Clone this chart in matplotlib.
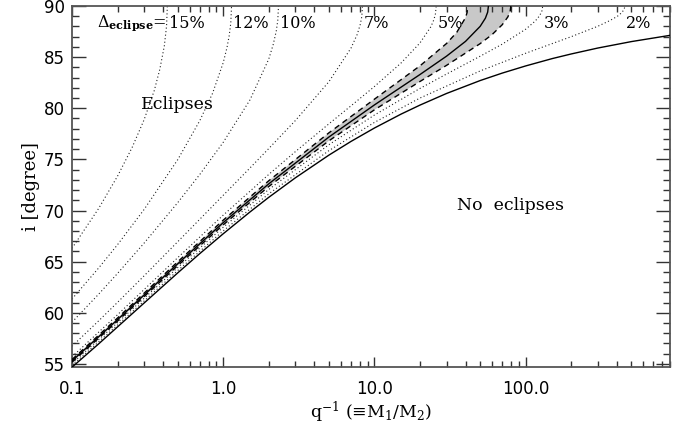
import matplotlib
matplotlib.use('Agg')
import matplotlib.pyplot as plt
from matplotlib.ticker import MultipleLocator, LogLocator, NullFormatter

# x = q^-1 = M1/M2, y = inclination [deg]
# lower limit for eclipses
q_lim=[0.1,0.15,0.2,0.3,0.5,0.7,1,1.5,2,3,5,7,10,15,20,30,50,70,100,150,200,300,500,900]
i_lim=[54.68,56.96,58.62,60.96,63.90,65.79,67.73,69.85,71.29,73.20,75.42,76.76,78.07,79.43,80.31,81.45,82.71,83.44,84.14,84.86,85.31,85.89,86.52,87.13]

# constant eclipse width curves (dotted)
q15=[0.1,0.15,0.2,0.25,0.3,0.35,0.3805,0.4077,0.422,0.427]
i15=[66.31,70.20,73.36,76.18,78.89,81.74,83.79,86.08,88.04,90.0]
q12=[0.1,0.15,0.2,0.3,0.5,0.7,0.85,1.0,1.059,1.096,1.122,1.135]
i12=[61.35,64.38,66.66,70.11,74.97,78.79,81.46,84.46,85.94,87.13,88.34,90.0]
q10=[0.1,0.15,0.2,0.3,0.5,0.7,1.0,1.5,2.0,2.14,2.241,2.294,2.32]
i10=[59.08,61.82,63.85,66.82,70.77,73.53,76.67,80.80,84.81,86.23,87.53,88.58,90.0]
q7=[0.1,0.15,0.2,0.3,0.5,0.7,1,1.5,2,3,5,7,7.70,8.057,8.245,8.34]
i7=[56.73,59.21,61.02,63.62,66.95,69.15,71.49,74.15,76.06,78.80,82.60,85.89,87.24,88.20,88.96,90.0]
q5=[0.1,0.2,0.5,1,2,3,5,7,10,15,20,23.63,24.74,25.31,25.6]
i5=[55.70,59.81,65.39,69.55,73.53,75.76,78.48,80.24,82.13,84.43,86.39,87.98,88.68,89.24,90.0]
q3=[0.1,0.2,0.5,1,2,5,10,20,30,50,70,100,115.5,123.8,128.1,129.6]
i3=[55.04,59.04,64.42,68.37,72.06,76.44,79.34,81.94,83.35,85.09,86.27,87.73,88.52,89.06,89.53,90.0]
q2=[0.1,0.2,0.5,1,2,5,10,20,50,100,200,300,359.8,403.7,432.6,447.8,453]
i2=[54.84,58.80,64.13,68.01,71.63,75.86,78.62,81.00,83.65,85.38,87.00,88.02,88.57,88.99,89.36,89.68,90.0]

# measured width: centre and error band
qc=[0.1,0.2,0.5,1,2,5,10,20,30,40,50,54.15,56.05,56.7]
ic=[55.29,59.33,64.79,68.82,72.61,77.19,80.33,83.30,85.10,86.54,88.01,88.81,89.40,90.0]
qu=[0.1,0.2,0.5,1,2,5,10,20,30,35,40,40.95,41.4]
iu=[55.43,59.49,64.99,69.06,72.91,77.60,80.89,84.15,86.34,87.42,88.86,89.35,90.0]
qd=[0.1,0.2,0.5,1,2,5,10,20,30,50,60,70,76.21,78.89,79.8]
idn=[55.17,59.19,64.61,68.60,72.35,76.82,79.85,82.62,84.20,86.32,87.21,88.17,88.93,89.46,90.0]

labels=['15%','12%','10%','7%','5%','3%','2%']
dotted=[(q15,i15),(q12,i12),(q10,i10),(q7,i7),(q5,i5),(q3,i3),(q2,i2)]

plt.rcParams['mathtext.fontset']='dejavuserif'
serif='DejaVu Serif'

fig=plt.figure(figsize=(6.91,4.30),dpi=100)
ax=fig.add_axes([72/691,1-367/430,598/691,361/430])
ax.set_xscale('log')

ax.fill(qu+qd[::-1],iu+idn[::-1],color='#c8c8c8',lw=0,zorder=1)
for q,i in dotted:
    ax.plot(q,i,color='#222222',lw=0.8,ls=(0,(1,2.2)),zorder=2)
ax.plot(qu,iu,color='k',lw=1.0,ls=(0,(4,3)),zorder=3)
ax.plot(qd,idn,color='k',lw=1.0,ls=(0,(4,3)),zorder=3)
ax.plot(qc,ic,color='k',lw=1.0,zorder=4)
ax.plot(q_lim,i_lim,color='k',lw=1.0,zorder=4)

ax.set_xlim(0.1,900)
ax.set_ylim(54.7,90)

# percentage labels just right of each curve top
ytxt=88.3
for (q,i),lab in zip(dotted,labels):
    ax.text(q[-1]*1.02,ytxt,lab,family=serif,fontsize=11.5,va='center',ha='left')
ax.text(q15[-1]*0.99,ytxt,r'$\Delta_{\mathbf{eclipse}}$=',family=serif,fontsize=11.5,va='center',ha='right')

ax.text(0.5,80.4,'Eclipses',family=serif,fontsize=12.5,ha='center',va='center')
ax.text(79,70.45,'No  eclipses',family=serif,fontsize=12.5,ha='center',va='center')

ax.set_xticks([0.1,1,10,100])
ax.set_xticklabels(['0.1','1.0','10.0','100.0'])
ax.xaxis.set_minor_locator(LogLocator(base=10,subs=range(2,10)))
ax.xaxis.set_minor_formatter(NullFormatter())
ax.yaxis.set_major_locator(MultipleLocator(5))
ax.yaxis.set_minor_locator(MultipleLocator(1))

ax.tick_params(which='both',direction='in',top=True,right=True,color='#333333',width=1.0,labelsize=12)
ax.tick_params(axis='x',which='major',length=7,pad=9)
ax.tick_params(axis='x',which='minor',length=4)
ax.tick_params(axis='y',which='major',length=10,pad=5)
ax.tick_params(axis='y',which='minor',length=5)
for s in ax.spines.values():
    s.set_color('#555555')
    s.set_linewidth(1.3)

ax.set_xlabel(r'q$^{-1}$ (≡M$_1$/M$_2$)',family=serif,fontsize=12.5,labelpad=2)
ax.set_ylabel('i [degree]',family=serif,fontsize=13,labelpad=3)

fig.savefig('out.png',dpi=100)
